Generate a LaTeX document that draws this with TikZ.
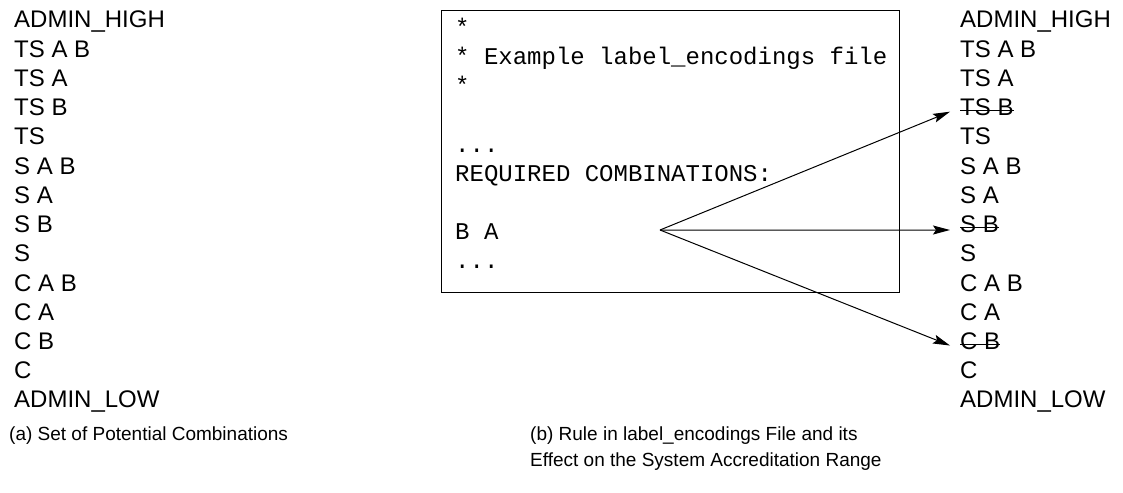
\documentclass[tikz,border=0pt]{standalone}
\usepackage{fontspec}
\setmainfont{Liberation Sans}
\newfontfamily\codefont{Liberation Mono}
\usetikzlibrary{arrows.meta}

\begin{document}
\begin{tikzpicture}[x=1pt,y=-1pt,
  item/.style={anchor=base west, inner sep=0pt, font=\fontsize{24}{29}\selectfont},
  codeline/.style={anchor=base west, inner sep=0pt, font=\codefont\fontsize{24}{29}\selectfont},
  capt/.style={anchor=base west, inner sep=0pt, font=\fontsize{19}{26}\selectfont},
  filebox/.style={draw, line width=1pt, anchor=north west, inner sep=0pt},
  link/.style={-{Stealth[length=17pt,width=9pt,inset=3pt]}, line width=1pt},
  strike/.style={line width=1pt}]
\useasboundingbox (0,0) rectangle (1123,492);

% (a) all potential combinations
\foreach \t [count=\i from 0] in {ADMIN\_HIGH, TS A B, TS A, TS B, TS, S A B, S A, S B, S, C A B, C A, C B, C, ADMIN\_LOW}
  \node[item] (l\i) at (14, 28+29.23*\i) {\t};

% (b) accreditation range after applying the rule
\foreach \t [count=\i from 0] in {ADMIN\_HIGH, TS A B, TS A, TS B, TS, S A B, S A, S B, S, C A B, C A, C B, C, ADMIN\_LOW}
  \node[item] (r\i) at (960, 28+29.23*\i) {\t};

\foreach \k in {3,7,11}
  \draw[strike] ([yshift=5.5pt]r\k.base west) -- ([yshift=5.5pt]r\k.base east);

% label_encodings excerpt
\node[filebox, minimum width=458pt, minimum height=282pt] (file) at (441,10) {};
\node[codeline] (c1) at (455,36)  {*};
\node[codeline] (c2) at (455,65)  {* Example label\_encodings file};
\node[codeline] (c3) at (455,94)  {*};
\node[codeline] (c5) at (455,152) {...};
\node[codeline] (c6) at (455,181) {REQUIRED COMBINATIONS:};
\node[codeline] (c8) at (455,239) {B A};
\node[codeline] (c9) at (455,268) {...};

% rule fan-out to the excluded combinations
\coordinate (src) at (660,230);
\draw[link] (src) -- ([xshift=-10pt,yshift=4pt]r3.base west);
\draw[link] (src) -- ([xshift=-10pt,yshift=2.6pt]r7.base west);
\draw[link] (src) -- ([xshift=-10pt,yshift=4pt]r11.base west);

% captions
\node[capt] (capa)  at (9,440)   {(a) Set of Potential Combinations};
\node[capt] (capb1) at (530,440) {(b) Rule in label\_encodings File and its};
\node[capt] (capb2) at (530,466) {Effect on the System Accreditation Range};
\end{tikzpicture}
\end{document}
